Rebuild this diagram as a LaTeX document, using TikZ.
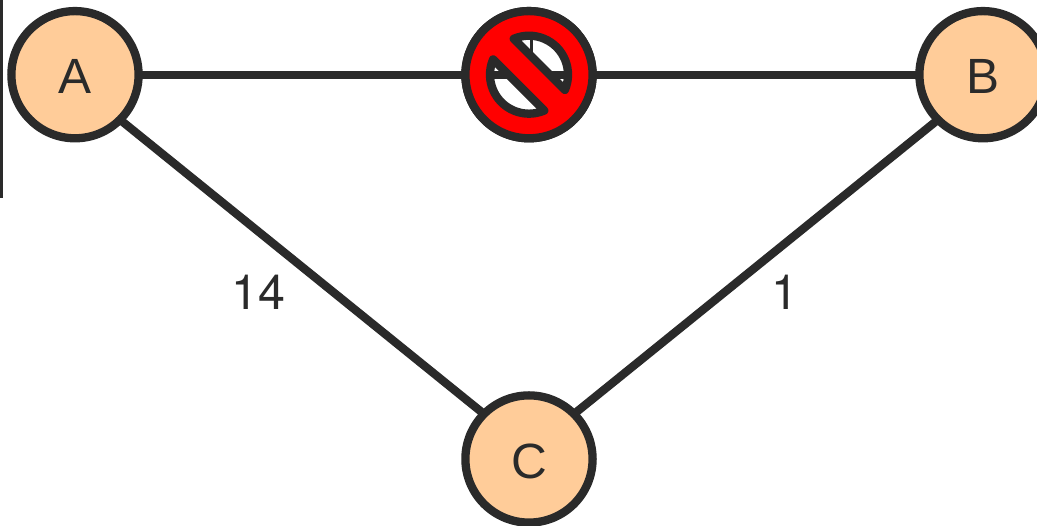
\documentclass[tikz,border=0pt]{standalone}
\usepackage{fontspec}
\setmainfont{Liberation Sans}
\newfontfamily\digitfont{TeX Gyre Heros}
\definecolor{ink}{HTML}{2A2A2A}
\definecolor{peach}{HTML}{FFCC99}
\tikzset{
  vertex/.style={circle,draw=ink,fill=peach,line width=8.3pt,outer sep=0pt,minimum size=127.2pt,inner sep=0pt,text=ink,text height=38.5pt,text depth=0pt,font=\fontsize{49.5}{49.5}\selectfont},
  edge/.style={draw=ink,line width=8.3pt},
  weight/.style={text=ink,inner sep=0pt,font=\digitfont\fontsize{48.5}{48.5}\selectfont},
  stopsign/.style={circle,draw=ink,line width=8.3pt,outer sep=0pt,minimum size=127.2pt,inner sep=0pt},
  stopfill/.style={draw=ink,fill=red,line width=8.3pt,line join=round,even odd rule}
}
\begin{document}
\begin{tikzpicture}[x=1pt,y=1pt]
\useasboundingbox (0,0) rectangle (1037,526);
\clip (0,0) rectangle (1037,526);
\coordinate (barT) at (1.3,526);
\coordinate (barB) at (1.3,328);
\draw[ink,line width=2.7pt] (barT) -- (barB);
\node[vertex] (A) at (75,451.3) {A};
\node[vertex] (B) at (983,451.3) {B};
\node[vertex] (C) at (529,67) {C};
\draw[edge] (A) -- (B);
\draw[edge] (A.south east) -- (C.north west);
\draw[edge] (B.south west) -- (C.north east);
\node[weight] (w14) at (258,234) {14};
\node[weight] (w1) at (785,234) {1};
\coordinate (tickT) at (531.2,488);
\coordinate (tickB) at (531.2,473);
\draw[ink,line width=3.4pt] (tickT) -- (tickB);
\node[stopsign] (stop) at (529,451.3) {};
\begin{scope}[shift={(stop.center)}]
\path[stopfill] (0,0) circle[radius=63.6]
  (-23:39) arc[start angle=-23,end angle=113,radius=39] -- cycle
  (157:39) arc[start angle=157,end angle=293,radius=39] -- cycle;
\end{scope}
\end{tikzpicture}
\end{document}
